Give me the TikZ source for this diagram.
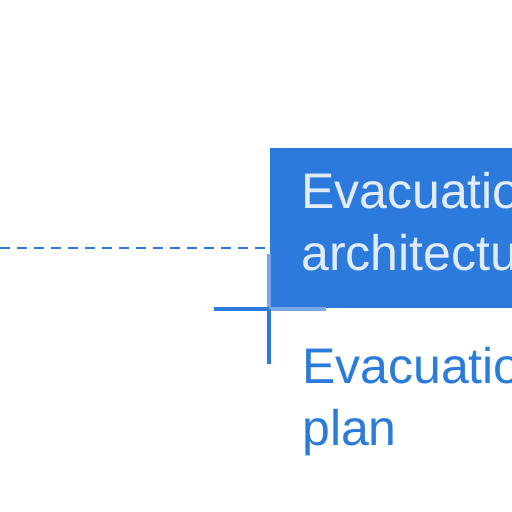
\documentclass[tikz,border=0pt]{standalone}
\usepackage{fontspec}
\setmainfont{Liberation Sans}
\usetikzlibrary{positioning, calc}
\definecolor{boxblue}{RGB}{44,122,219}
\definecolor{labelblue}{RGB}{43,123,218}
\definecolor{paleblue}{RGB}{226,236,248}
\definecolor{handleblue}{RGB}{125,168,232}

\begin{document}
\begin{tikzpicture}[x=1pt, y=-1pt,
    archbox/.style={fill=boxblue, text=paleblue, anchor=north west,
      inner xsep=31pt, inner ysep=0pt, text width=260pt, minimum height=160pt,
      text depth=75pt, align=left, font=\fontsize{50}{62}\selectfont},
    plantext/.style={text=labelblue, anchor=north west, inner sep=0pt,
      text width=260pt, align=left, font=\fontsize{50}{62}\selectfont},
    guide/.style={boxblue, line width=2pt, dash pattern=on 10pt off 7pt},
    handle/.style={boxblue, line width=3.5pt},
    handlepale/.style={handleblue, line width=3.5pt}]
    % Rahmen des Bildes
    \useasboundingbox (0,0) rectangle (512,512);
    \clip (0,0) rectangle (512,512);
    % Kasten Architektur
    \node[archbox] (arch) at (270,148) {Evacuation\\architecture};
    % Hilfslinie gestrichelt
    \coordinate (lnstart) at (0,248);
    \draw[guide] (lnstart) -- (lnstart -| arch.west);
    % Kreuz an der Ecke
    \coordinate (hleft) at (214,309);
    \coordinate (hright) at (326,309);
    \coordinate (vtop) at (269,254);
    \coordinate (vbot) at (269,364);
    \coordinate (corner) at (269,309);
    \draw[handlepale] (corner) -- (hright);
    \draw[handlepale] (vtop) -- (corner);
    \draw[handle] (hleft) -- (corner);
    \draw[handle] (corner) -- (vbot);
    % Beschriftung unten
    \node[plantext] (plan) at (302,347) {Evacuation\\plan};
\end{tikzpicture}
\end{document}
